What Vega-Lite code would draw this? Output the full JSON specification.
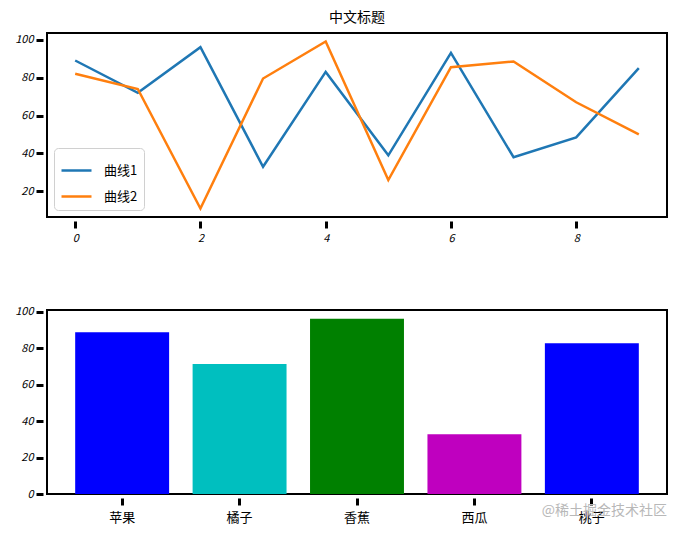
{
  "$schema": "https://vega.github.io/schema/vega-lite/v6.json",
  "padding": {"left": 13, "top": 10, "right": 8, "bottom": 5},
  "spacing": 93,
  "bounds": "flush",
  "resolve": {"scale": {"color": "independent"}, "legend": {"color": "independent"}},
  "config": {
    "font": "Noto Sans CJK SC",
    "view": {"stroke": "black", "strokeWidth": 2},
    "axis": {
      "domain": false,
      "grid": false,
      "ticks": true,
      "tickColor": "black",
      "tickWidth": 3,
      "tickSize": 7,
      "offset": 4,
      "labelColor": "black",
      "labelPadding": 3,
      "title": null
    }
  },
  "vconcat": [
    {
      "width": 620,
      "height": 184,
      "title": {"text": "中文标题", "fontSize": 14, "fontWeight": "normal", "offset": 8, "anchor": "middle", "frame": "group"},
      "data": {"values": [
        {"x": 0, "y": 89, "s": "曲线1"}, {"x": 1, "y": 72, "s": "曲线1"}, {"x": 2, "y": 96, "s": "曲线1"},
        {"x": 3, "y": 33, "s": "曲线1"}, {"x": 4, "y": 83, "s": "曲线1"}, {"x": 5, "y": 39, "s": "曲线1"},
        {"x": 6, "y": 93, "s": "曲线1"}, {"x": 7, "y": 38, "s": "曲线1"}, {"x": 8, "y": 48.5, "s": "曲线1"},
        {"x": 9, "y": 85, "s": "曲线1"},
        {"x": 0, "y": 82, "s": "曲线2"}, {"x": 1, "y": 74, "s": "曲线2"}, {"x": 2, "y": 11, "s": "曲线2"},
        {"x": 3, "y": 79.5, "s": "曲线2"}, {"x": 4, "y": 99, "s": "曲线2"}, {"x": 5, "y": 26, "s": "曲线2"},
        {"x": 6, "y": 85.5, "s": "曲线2"}, {"x": 7, "y": 88.5, "s": "曲线2"}, {"x": 8, "y": 67, "s": "曲线2"},
        {"x": 9, "y": 50, "s": "曲线2"}
      ]},
      "mark": {"type": "line", "strokeWidth": 2.5},
      "encoding": {
        "x": {"field": "x", "type": "quantitative",
          "scale": {"domain": [-0.45, 9.45], "nice": false, "zero": false},
          "axis": {"values": [0, 2, 4, 6, 8], "labelFontStyle": "italic", "labelFontSize": 11, "labelPadding": 4}},
        "y": {"field": "y", "type": "quantitative",
          "scale": {"domain": [6.5, 103.5], "nice": false, "zero": false},
          "axis": {"values": [20, 40, 60, 80, 100], "labelFontStyle": "italic", "labelFontSize": 11}},
        "color": {"field": "s", "type": "nominal",
          "scale": {"domain": ["曲线1", "曲线2"], "range": ["#1f77b4", "#ff7f0e"]},
          "legend": {"orient": "bottom-left", "title": null, "offset": 7, "padding": 6,
            "strokeColor": "#d0d0d0", "fillColor": "white", "cornerRadius": 4,
            "symbolType": "stroke", "symbolSize": 900, "symbolStrokeWidth": 2.5,
            "labelFontSize": 13, "labelOffset": 11, "rowPadding": 2}}
      }
    },
    {
      "width": 620,
      "height": 184,
      "title": {"text": "@稀土掘金技术社区", "orient": "bottom", "anchor": "end", "frame": "group",
        "offset": -20, "fontSize": 14, "fontWeight": "normal", "color": "#b8b8b8"},
      "data": {"values": [
        {"fruit": "苹果", "v": 88.8},
        {"fruit": "橘子", "v": 71.3},
        {"fruit": "香蕉", "v": 96.2},
        {"fruit": "西瓜", "v": 32.8},
        {"fruit": "桃子", "v": 82.8}
      ]},
      "mark": {"type": "bar"},
      "encoding": {
        "x": {"field": "fruit", "type": "nominal", "sort": null,
          "scale": {"paddingInner": 0.2, "paddingOuter": 0.24},
          "axis": {"labelAngle": 0, "labelFontSize": 13, "labelPadding": 6}},
        "y": {"field": "v", "type": "quantitative",
          "scale": {"domain": [0, 101], "nice": false},
          "axis": {"values": [0, 20, 40, 60, 80, 100], "labelFontStyle": "italic", "labelFontSize": 11}},
        "color": {"field": "fruit", "type": "nominal", "legend": null,
          "scale": {"domain": ["苹果", "橘子", "香蕉", "西瓜", "桃子"],
            "range": ["#0000ff", "#00bfbf", "#008000", "#bf00bf", "#0000ff"]}}
      }
    }
  ]
}
